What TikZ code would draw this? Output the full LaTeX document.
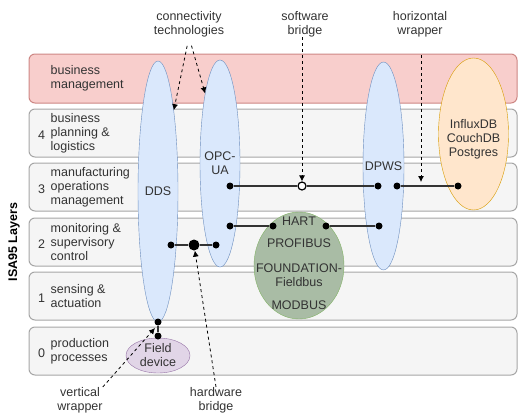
\documentclass[tikz,border=0pt]{standalone}
\usepackage{fontspec}
\setmainfont{Liberation Sans}
\usetikzlibrary{shapes.geometric, arrows.meta, graphs}

\definecolor{mgmtfill}{HTML}{F8CECC}
\definecolor{mgmtline}{HTML}{B85450}
\definecolor{layerfill}{HTML}{F5F5F5}
\definecolor{layerline}{HTML}{A6A6A6}
\definecolor{techfill}{HTML}{DAE8FC}
\definecolor{techline}{HTML}{6C8EBF}
\definecolor{dbfill}{HTML}{FFE6CC}
\definecolor{dbline}{HTML}{D79B00}
\definecolor{busfill}{HTML}{A9BCA5}
\definecolor{busline}{HTML}{82B366}
\definecolor{devfill}{HTML}{E1D5E7}
\definecolor{devline}{HTML}{9673A6}
\definecolor{ink}{HTML}{333333}

\begin{document}
\begin{tikzpicture}[
    x=1pt,
    y=-1pt,
    font=\fontsize{12.5}{14}\selectfont,
    text=ink,
    layer/.style={
        draw=layerline, fill=layerfill, line width=1pt,
        rounded corners=6pt, minimum width=488pt, minimum height=48pt,
        inner sep=0pt,
    },
    toplayer/.style={layer, draw=mgmtline!70, fill=mgmtfill, minimum height=49pt},
    layernum/.style={inner sep=0pt},
    layertext/.style={anchor=west, align=left, inner sep=0pt},
    tech/.style={ellipse, draw=techline, fill=techfill, minimum width=40pt, inner sep=0pt},
    store/.style={ellipse, draw=dbline, fill=dbfill, inner sep=0pt},
    fieldbus/.style={ellipse, draw=busline, fill=busfill, inner sep=0pt},
    device/.style={ellipse, draw=devline, fill=devfill, inner sep=0pt},
    dot/.style={circle, fill=black, minimum size=7pt, inner sep=0pt},
    bigdot/.style={dot, minimum size=11pt},
    opendot/.style={circle, draw=black, fill=white, line width=1.2pt, minimum size=8pt, inner sep=0pt},
    link/.style={draw=ink, line width=1.3pt},
    note/.style={align=center, inner sep=0pt},
    pointer/.style={
        draw=black, line width=0.8pt, dash pattern=on 3pt off 3pt,
        -{Latex[length=6pt,width=6pt]},
    },
]
    \useasboundingbox (0,0) rectangle (518,412);

    \node[toplayer] (L5) at (273,78.5) {};
    \node[layer] (L4) at (273,133) {};
    \node[layer] (L3) at (273,187) {};
    \node[layer] (L2) at (273,242) {};
    \node[layer] (L1) at (273,296) {};
    \node[layer] (L0) at (273,351) {};

    \node[layertext] (t5) at ([xshift=22pt]L5.west) {business\\management};
    \node[layernum] (n4) at ([xshift=13pt,yshift=-2pt]L4.west) {4};
    \node[layertext] (t4) at ([xshift=22pt]L4.west) {business\\planning \&\\logistics};
    \node[layernum] (n3) at ([xshift=13pt,yshift=-2pt]L3.west) {3};
    \node[layertext] (t3) at ([xshift=22pt]L3.west) {manufacturing\\operations\\management};
    \node[layernum] (n2) at ([xshift=13pt,yshift=-2pt]L2.west) {2};
    \node[layertext] (t2) at ([xshift=22pt]L2.west) {monitoring \&\\supervisory\\control};
    \node[layernum] (n1) at ([xshift=13pt,yshift=-2pt]L1.west) {1};
    \node[layertext] (t1) at ([xshift=22pt]L1.west) {sensing \&\\actuation};
    \node[layernum] (n0) at ([xshift=13pt,yshift=-2pt]L0.west) {0};
    \node[layertext] (t0) at ([xshift=22pt]L0.west) {production\\processes};

    \node[rotate=90, font=\fontsize{12.5}{14}\selectfont\bfseries, text=black] (isa) at (14,242) {ISA95 Layers};

    \node[tech, minimum height=261pt, label={center:DDS}] (dds) at (158,191.5) {};
    \node[tech, minimum height=207pt, label={[align=center]center:{OPC-\\UA}}] (opc) at (220,163.5) {};
    \node[tech, minimum width=41pt, minimum height=208pt, label={center:DPWS}] (dpws) at (383.5,166) {};
    \node[store, minimum width=70pt, minimum height=152pt,
        label={[align=center, yshift=-5pt]center:{InfluxDB\\CouchDB\\Postgres}}] (db) at (473.5,134) {};
    \node[fieldbus, minimum width=90pt, minimum height=107pt,
        label={[align=center, yshift=2.5pt]center:{HART\\[8pt]PROFIBUS\\[11pt]FOUNDATION-\\Fieldbus\\[9pt]MODBUS}}] (fb) at (299,265.5) {};
    \node[device, minimum width=64pt, minimum height=35pt,
        label={[align=center]center:{Field\\device}}] (fd) at (158,355.5) {};

    \node[dot] (ddsbot) at (158,322) {};
    \node[dot] (fdtop) at (158,336) {};
    \node[dot] (opc3) at (230,186) {};
    \node[opendot] (sbr) at (302,186) {};
    \node[dot] (dpws3) at (378,186) {};
    \node[dot] (dpws3b) at (397,186) {};
    \node[dot] (db3) at (458,186) {};
    \node[dot] (opc2) at (230,226) {};
    \node[dot] (fb2a) at (273,226) {};
    \node[dot] (fb2b) at (326,226) {};
    \node[dot] (dpws2) at (379,226) {};
    \node[dot] (dds2) at (171,245) {};
    \node[bigdot] (hbr) at (194,245) {};
    \node[dot] (opc2b) at (216,245) {};

    \graph[use existing nodes, edges={link}]{
        ddsbot -- fdtop;
        opc3 -- sbr -- dpws3;
        dpws3b -- db3;
        opc2 -- fb2a;
        fb2b -- dpws2;
        dds2 -- hbr -- opc2b;
    };

    \node[note] (conn) at (189,24) {connectivity\\technologies};
    \node[note] (swb) at (305,24) {software\\bridge};
    \node[note] (hwr) at (420,24) {horizontal\\wrapper};
    \node[note] (vwr) at (80,400) {vertical\\wrapper};
    \node[note] (hwb) at (216,400) {hardware\\bridge};

    \coordinate (hwtip) at (421,182);
    \coordinate (vwtip) at (155,328);

    \draw[pointer, shorten <=9pt] (conn.south) -- (dds.79);
    \draw[pointer, shorten <=9pt] (conn.south) -- (opc.102);
    \draw[pointer] (swb.south -| sbr) -- (sbr);
    \draw[pointer, shorten <=18pt] (hwr.south -| hwtip) -- (hwtip);
    \draw[pointer] (vwr.north east) -- (vwtip);
    \draw[pointer] (hwb.north) -- (hbr);
\end{tikzpicture}
\end{document}
